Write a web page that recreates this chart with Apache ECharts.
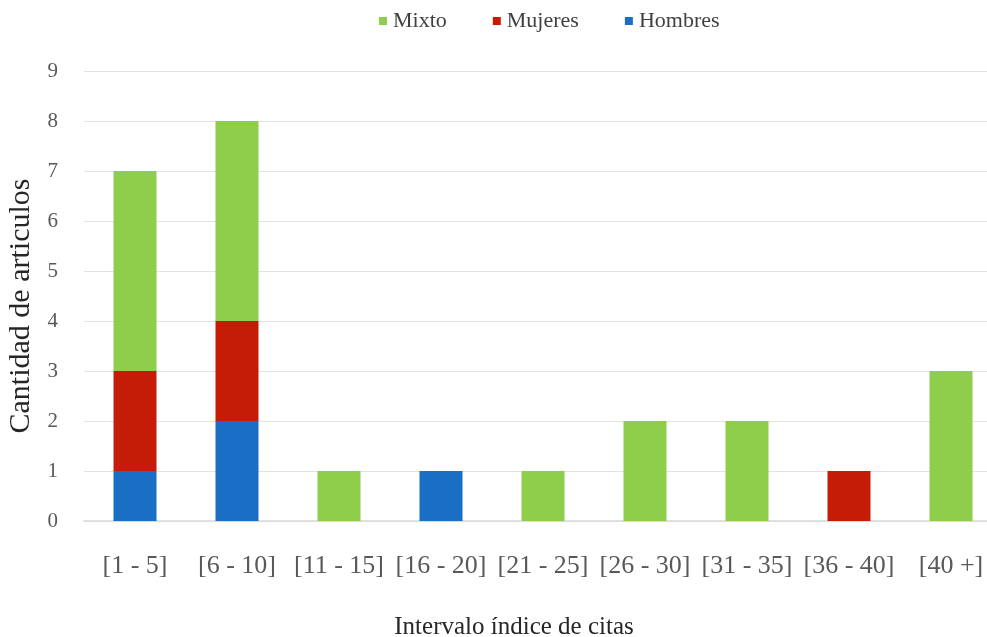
<!DOCTYPE html>
<html>
<head>
<meta charset="utf-8">
<script src="https://cdn.jsdelivr.net/npm/echarts@6/dist/echarts.min.js"></script>
<style>
  html, body { margin: 0; padding: 0; background: #fff; }
  #chart { width: 987px; height: 637px; }
</style>
</head>
<body>
<div id="chart"></div>
<script>
const categories = ['[1 - 5]', '[6 - 10]', '[11 - 15]', '[16 - 20]', '[21 - 25]', '[26 - 30]', '[31 - 35]', '[36 - 40]', '[40 +]']
const hombres = [1, 2, 0, 1, 0, 0, 0, 0, 0]
const mujeres = [2, 2, 0, 0, 0, 0, 0, 1, 0]
const mixto = [4, 4, 1, 0, 1, 2, 2, 0, 3]

const FONT = '"Liberation Serif", "DejaVu Serif", serif'

const chart = echarts.init(document.getElementById('chart'))

function bar(name, data, color) {
  return {
    name,
    type: 'bar',
    stack: 'total',
    barWidth: 43,
    data: data.map(v => (v === 0 ? null : v)),
    itemStyle: { color }
  }
}

chart.setOption({
  animation: false,
  backgroundColor: '#fff',
  textStyle: { fontFamily: FONT },
  legend: {
    top: 5,
    left: 374,
    data: ['Mixto', 'Mujeres', 'Hombres'],
    icon: 'rect',
    itemWidth: 8,
    itemHeight: 8,
    itemGap: 46,
    textStyle: { fontFamily: FONT, fontSize: 22, color: '#404040', padding: [0, 0, 0, 1] }
  },
  grid: { left: 84, right: -15, top: 71, bottom: 116, outerBoundsMode: 'none' },
  xAxis: {
    type: 'category',
    data: categories,
    axisTick: { show: false },
    axisLine: { lineStyle: { color: '#d9d9d9', width: 1.5 } },
    axisLabel: { fontFamily: FONT, fontSize: 26, color: '#595959', margin: 32, interval: 0 },
    name: 'Intervalo índice de citas',
    nameLocation: 'middle',
    nameGap: 94,
    nameTextStyle: { fontFamily: FONT, fontSize: 25, color: '#262626', padding: [0, 58, 0, 0] }
  },
  yAxis: {
    type: 'value',
    min: 0,
    max: 9,
    interval: 1,
    axisLine: { show: false },
    axisTick: { show: false },
    splitLine: { lineStyle: { color: '#e3e3e3', width: 1 } },
    axisLabel: { fontFamily: FONT, fontSize: 21, color: '#595959', margin: 26 },
    name: 'Cantidad de articulos',
    nameLocation: 'middle',
    nameGap: 45,
    nameTextStyle: { fontFamily: FONT, fontSize: 30, color: '#262626', padding: [0, 20, 0, 0] }
  },
  series: [
    bar('Hombres', hombres, '#1a6fc4'),
    bar('Mujeres', mujeres, '#c41c06'),
    bar('Mixto', mixto, '#8fce4a')
  ]
})
</script>
</body>
</html>
